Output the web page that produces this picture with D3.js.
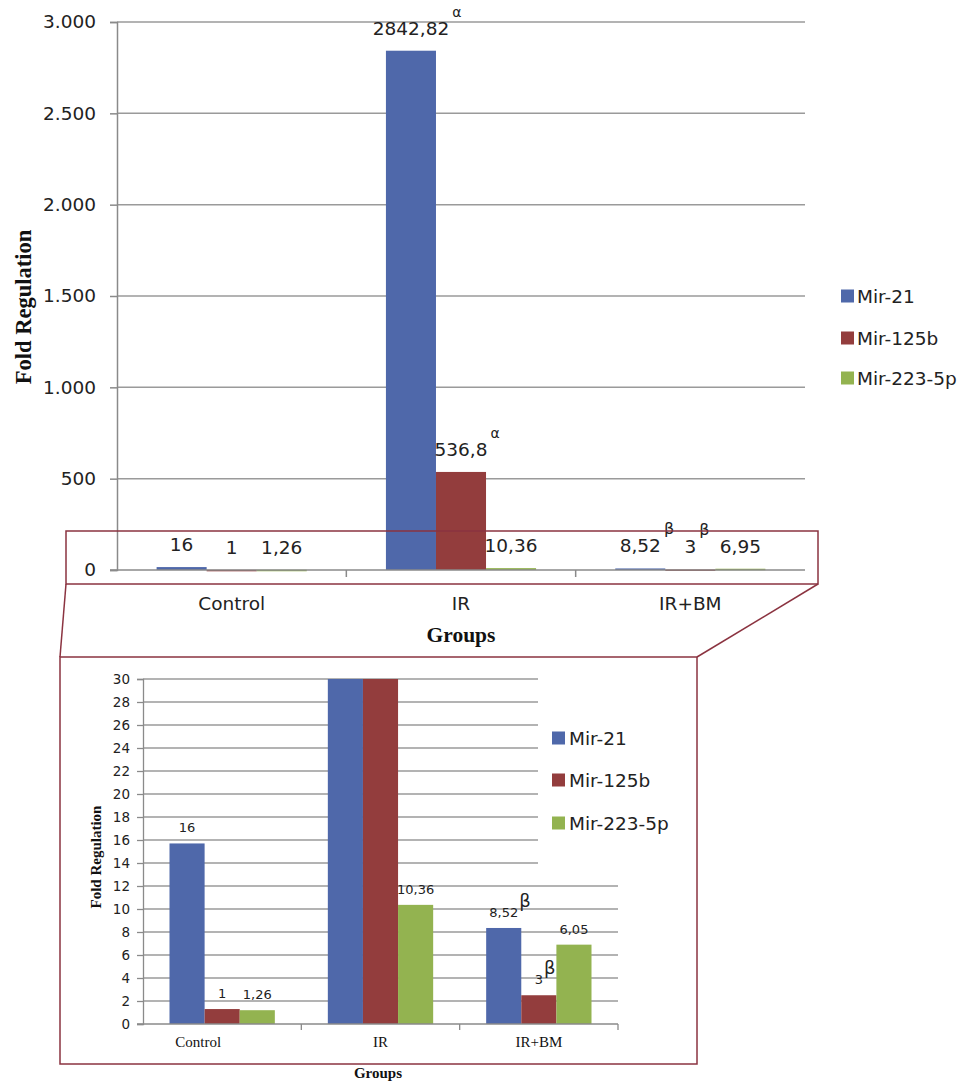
<!DOCTYPE html>
<html>
<head>
<meta charset="utf-8">
<script src="https://cdn.jsdelivr.net/npm/d3@7/dist/d3.min.js"></script>
<style>
  html, body { margin: 0; padding: 0; background: #fff; }
  svg { display: block; }
</style>
</head>
<body>
<svg id="chart" width="966" height="1081"></svg>
<script>
// ---------------- DATA ----------------
const groups = ["Control", "IR", "IR+BM"];
const seriesNames = ["Mir-21", "Mir-125b", "Mir-223-5p"];

// main chart values
const mainMir21 = [16, 2842.82, 8.52];
const mainMir125b = [1, 536.8, 3];
const mainMir223 = [1.26, 10.36, 6.95];
const mainLabels21 = ["16", "2842,82", "8,52"];
const mainLabels125b = ["1", "536,8", "3"];
const mainLabels223 = ["1,26", "10,36", "6,95"];
const mainMarks21 = ["", "α", "β"];
const mainMarks125b = ["", "α", "β"];
const mainMarks223 = ["", "", ""];
const mainTicks = [0, 500, 1000, 1500, 2000, 2500, 3000];

// inset (zoomed) chart values, as drawn
const insetMir21 = [15.7, 2842.82, 8.35];
const insetMir125b = [1.3, 536.8, 2.5];
const insetMir223 = [1.2, 10.36, 6.9];
const insetLabels21 = ["16", "", "8,52"];
const insetLabels125b = ["1", "", "3"];
const insetLabels223 = ["1,26", "10,36", "6,05"];
const insetMarks21 = ["", "", "β"];
const insetMarks125b = ["", "", "β"];
const insetMarks223 = ["", "", ""];
const insetTicks = [0, 2, 4, 6, 8, 10, 12, 14, 16, 18, 20, 22, 24, 26, 28, 30];

// ---------------- STYLE ----------------
const colors = ["#4F68AA", "#933D3D", "#93B350"];
const frameColor = "#8B3340";
const gridColor = "#9a9a9a";
const axisColor = "#8a8a8a";
const sans = "'DejaVu Sans', Verdana, sans-serif";
const serif = "'Liberation Serif', 'Times New Roman', serif";

const svg = d3.select("#chart");
const loc = d3.formatLocale({ decimal: ",", thousands: ".", grouping: [3], currency: ["", ""] });
const fmtThousands = loc.format(",d");

function buildSeries(vals, labels, marks) {
  return seriesNames.map((s, si) => groups.map((g, gi) => ({
    group: g, series: s, si: si,
    value: vals[si][gi], label: labels[si][gi], mark: marks[si][gi]
  })));
}

// ---------------- MAIN CHART ----------------
(function () {
  const left = 117, right = 805, top = 22, bottom = 570;
  const x0 = d3.scaleBand().domain(groups).range([left, right]).paddingInner(0).paddingOuter(0);
  const pad = 39.6;
  const x1 = d3.scaleBand().domain(seriesNames).range([0, x0.bandwidth() - 2 * pad]);
  const y = d3.scaleLinear().domain([0, 3000]).range([bottom, top]);

  const g = svg.append("g");
  // gridlines
  g.append("g").selectAll("line").data(mainTicks.filter(t => t > 0)).join("line")
    .attr("x1", left).attr("x2", right)
    .attr("y1", d => y(d)).attr("y2", d => y(d))
    .attr("stroke", gridColor).attr("stroke-width", 1.5);

  // y axis
  const yAxis = d3.axisLeft(y).tickValues(mainTicks).tickFormat(fmtThousands).tickSize(7).tickPadding(14);
  const ya = g.append("g").attr("transform", `translate(${left},0)`).call(yAxis);
  ya.select(".domain").attr("stroke", axisColor).attr("stroke-width", 1.5);
  ya.selectAll(".tick line").attr("stroke", axisColor).attr("stroke-width", 1.5);
  ya.selectAll(".tick text").attr("font-family", sans).attr("font-size", 18.5).attr("fill", "#222");

  // bars
  const data = buildSeries([mainMir21, mainMir125b, mainMir223],
    [mainLabels21, mainLabels125b, mainLabels223],
    [mainMarks21, mainMarks125b, mainMarks223]);
  const bars = g.append("g");
  data.forEach((ser, si) => {
    bars.selectAll(null).data(ser).join("rect")
      .attr("x", d => x0(d.group) + pad + x1(d.series))
      .attr("width", x1.bandwidth())
      .attr("y", d => y(d.value))
      .attr("height", d => Math.max(1.5, y(0) - y(d.value)))
      .attr("fill", colors[si]);
  });

  // x axis
  const xa = g.append("g").attr("transform", `translate(0,${bottom})`);
  xa.append("line").attr("x1", left - 7).attr("x2", right).attr("stroke", axisColor).attr("stroke-width", 1.5);
  xa.selectAll(".tk").data(groups.slice(1).map(d => x0(d))).join("line")
    .attr("x1", d => d).attr("x2", d => d).attr("y1", 0).attr("y2", 7)
    .attr("stroke", axisColor).attr("stroke-width", 1.5);
  xa.selectAll("text").data(groups).join("text")
    .attr("x", d => x0(d) + x0.bandwidth() / 2).attr("y", 40)
    .attr("text-anchor", "middle").attr("font-family", sans).attr("font-size", 18.5).attr("fill", "#222")
    .text(d => d);

  // labels
  const lab = g.append("g");
  data.forEach((ser) => {
    ser.forEach(d => {
      const cx = x0(d.group) + pad + x1(d.series) + x1.bandwidth() / 2;
      const by = y(d.value) - 16;
      const t = lab.append("text").attr("x", cx).attr("y", by)
        .attr("text-anchor", "middle").attr("font-family", sans).attr("font-size", 18.5).attr("fill", "#222")
        .text(d.label);
      if (d.mark) {
        const w = t.node().getComputedTextLength();
        lab.append("text").attr("x", cx + w / 2 + 3).attr("y", by - 18)
          .attr("font-family", sans).attr("font-size", d.mark === "α" ? 14 : 16).attr("fill", "#222")
          .text(d.mark);
      }
    });
  });

  // axis titles
  g.append("text").attr("transform", `translate(31,${(top + bottom) / 2 + 11}) rotate(-90)`)
    .attr("text-anchor", "middle").attr("font-family", serif).attr("font-weight", "bold")
    .attr("font-size", 22.5).attr("fill", "#111").text("Fold Regulation");
  g.append("text").attr("x", (left + right) / 2).attr("y", 642)
    .attr("text-anchor", "middle").attr("font-family", serif).attr("font-weight", "bold")
    .attr("font-size", 21.5).attr("fill", "#111").text("Groups");

  // legend
  const lg = g.append("g");
  seriesNames.forEach((s, i) => {
    const cy = [296, 338, 378][i];
    lg.append("rect").attr("x", 841).attr("y", cy - 6.5).attr("width", 13).attr("height", 13).attr("fill", colors[i]);
    lg.append("text").attr("x", 857).attr("y", cy + 6.5).attr("font-family", sans).attr("font-size", 18.5)
      .attr("fill", "#222").text(s);
  });

  // highlight frame
  g.append("rect").attr("x", 66).attr("y", 531).attr("width", 752).attr("height", 53)
    .attr("fill", "none").attr("stroke", frameColor).attr("stroke-width", 1.5);
})();

// ---------------- CONNECTORS + INSET FRAME ----------------
svg.append("line").attr("x1", 66).attr("y1", 584).attr("x2", 60).attr("y2", 657)
  .attr("stroke", frameColor).attr("stroke-width", 1.5);
svg.append("line").attr("x1", 818).attr("y1", 584).attr("x2", 697).attr("y2", 657)
  .attr("stroke", frameColor).attr("stroke-width", 1.5);
svg.append("rect").attr("x", 60).attr("y", 657).attr("width", 637).attr("height", 407)
  .attr("fill", "none").attr("stroke", frameColor).attr("stroke-width", 1.5);

// ---------------- INSET CHART ----------------
(function () {
  const left = 143, right = 618, top = 679, bottom = 1024;
  const x0 = d3.scaleBand().domain(groups).range([left, right]);
  const pad = 26.5;
  const x1 = d3.scaleBand().domain(seriesNames).range([0, x0.bandwidth() - 2 * pad]);
  const y = d3.scaleLinear().domain([0, 30]).range([bottom, top]).clamp(true);

  const g = svg.append("g");
  g.append("g").selectAll("line").data(insetTicks.filter(t => t > 0)).join("line")
    .attr("x1", left).attr("x2", right)
    .attr("y1", d => y(d)).attr("y2", d => y(d))
    .attr("stroke", gridColor).attr("stroke-width", 1.3);

  const yAxis = d3.axisLeft(y).tickValues(insetTicks).tickFormat(d3.format("d")).tickSize(6).tickPadding(7);
  const ya = g.append("g").attr("transform", `translate(${left},0)`).call(yAxis);
  ya.select(".domain").attr("stroke", axisColor).attr("stroke-width", 1.3);
  ya.selectAll(".tick line").attr("stroke", axisColor).attr("stroke-width", 1.3);
  ya.selectAll(".tick text").attr("font-family", sans).attr("font-size", 13.5).attr("fill", "#222");

  const data = buildSeries([insetMir21, insetMir125b, insetMir223],
    [insetLabels21, insetLabels125b, insetLabels223],
    [insetMarks21, insetMarks125b, insetMarks223]);
  data.forEach((ser, si) => {
    g.append("g").selectAll("rect").data(ser).join("rect")
      .attr("x", d => x0(d.group) + pad + x1(d.series))
      .attr("width", x1.bandwidth())
      .attr("y", d => y(d.value))
      .attr("height", d => y(0) - y(d.value))
      .attr("fill", colors[si]);
  });

  const xa = g.append("g").attr("transform", `translate(0,${bottom})`);
  xa.append("line").attr("x1", left - 6).attr("x2", right).attr("stroke", axisColor).attr("stroke-width", 1.3);
  xa.selectAll(".tk").data(groups.map(d => x0(d) + x0.bandwidth())).join("line")
    .attr("x1", d => d).attr("x2", d => d).attr("y1", 0).attr("y2", 6)
    .attr("stroke", axisColor).attr("stroke-width", 1.3);
  xa.selectAll("text").data(groups).join("text")
    .attr("x", d => x0(d) + x0.bandwidth() / 2 - (d === "Control" ? 24 : 0)).attr("y", 23)
    .attr("text-anchor", "middle").attr("font-family", serif).attr("font-size", 15).attr("fill", "#111")
    .text(d => d);

  const lab = g.append("g");
  data.forEach((ser) => {
    ser.forEach(d => {
      if (!d.label) return;
      const cx = x0(d.group) + pad + x1(d.series) + x1.bandwidth() / 2;
      const by = y(d.value) - 11;
      const t = lab.append("text").attr("x", cx).attr("y", by)
        .attr("text-anchor", "middle").attr("font-family", sans).attr("font-size", 13).attr("fill", "#222")
        .text(d.label);
      if (d.mark) {
        const w = t.node().getComputedTextLength();
        lab.append("text").attr("x", cx + w / 2 + 1).attr("y", by - 10)
          .attr("font-family", sans).attr("font-size", 18).attr("fill", "#222")
          .text(d.mark);
      }
    });
  });

  // legend with white backing covering gridlines
  g.append("rect").attr("x", 538).attr("y", 662).attr("width", 156).attr("height", 214).attr("fill", "#fff");
  seriesNames.forEach((s, i) => {
    const cy = [738, 780, 823][i];
    g.append("rect").attr("x", 552).attr("y", cy - 6.5).attr("width", 13).attr("height", 13).attr("fill", colors[i]);
    g.append("text").attr("x", 569).attr("y", cy + 6.5).attr("font-family", sans).attr("font-size", 18.5)
      .attr("fill", "#222").text(s);
  });

  g.append("text").attr("transform", `translate(101,857) rotate(-90)`)
    .attr("text-anchor", "middle").attr("font-family", serif).attr("font-weight", "bold")
    .attr("font-size", 15).attr("fill", "#111").text("Fold Regulation");
  g.append("text").attr("x", 378).attr("y", 1078)
    .attr("text-anchor", "middle").attr("font-family", serif).attr("font-weight", "bold")
    .attr("font-size", 15).attr("fill", "#111").text("Groups");
})();
</script>
</body>
</html>
